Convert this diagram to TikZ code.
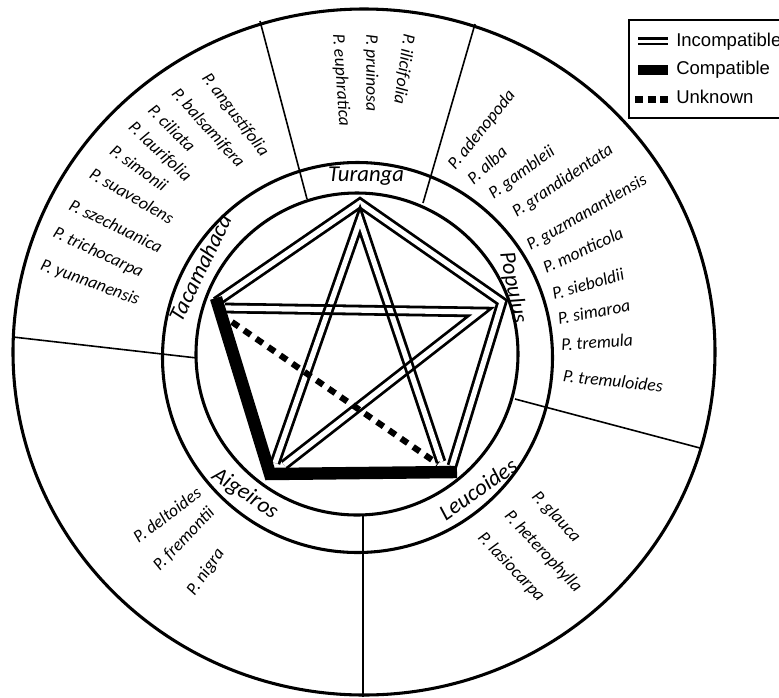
\documentclass[tikz,border=0pt]{standalone}
\usepackage{fontspec}
\setmainfont{Carlito}
\newfontfamily\legfont{Liberation Sans}
\usetikzlibrary{calc}
\begin{document}
\begin{tikzpicture}[x=0.75pt,y=-0.75pt,
  ring/.style={line width=2.3pt},
  divider/.style={line width=1.2pt},
  incompat/.style={draw=black, line width=2.1pt, double=white, double distance=3.9pt, line join=miter, line cap=butt},
  compat/.style={line width=9.3pt, line join=miter, line cap=butt},
  unknown/.style={line width=4.6pt, dash pattern=on 6pt off 5pt},
  spec/.style={font=\fontsize{13.2pt}{15pt}\selectfont\itshape, inner sep=0pt},
  genus/.style={font=\fontsize{17pt}{19pt}\selectfont\itshape, inner sep=0pt},
  legtext/.style={font=\legfont\fontsize{13.9pt}{16pt}\selectfont, inner sep=0pt, anchor=west},
  mult/.style={transparency group, blend mode=multiply},
]
\useasboundingbox (0,0) rectangle (779,697);
\clip (0,0) rectangle (779,697);

% circles
\draw[ring] (364,352) ellipse [x radius=351, y radius=343];
\draw[ring] (357.5,357.5) circle [radius=195];
\draw[ring] (357,354) circle [radius=161];

% dividers
\coordinate (d1o) at (260,21);  \coordinate (d1i) at (307,199);
\coordinate (d2o) at (475,24);  \coordinate (d2i) at (423,203);
\coordinate (d3o) at (700,448); \coordinate (d3i) at (515,399);
\coordinate (d4o) at (363,697); \coordinate (d4i) at (363,515);
\coordinate (d5o) at (13,337);  \coordinate (d5i) at (197,358);
\draw[divider] (d1o) -- (d1i);
\draw[divider] (d2o) -- (d2i);
\draw[divider] (d3o) -- (d3i);
\draw[divider] (d4o) -- (d4i);
\draw[divider] (d5o) -- (d5i);

% vertices
\coordinate (ta) at (216,302);
\coordinate (tu) at (360,203);
\coordinate (po) at (502,302);
\coordinate (leC) at (452,466);
\coordinate (leD) at (457,472);
\coordinate (aiD) at (270,474);
\coordinate (taD) at (216,298);
\coordinate (taA) at (225,308);
\coordinate (poA) at (480,312);
\coordinate (aiA) at (284,465);
\coordinate (aiB) at (275,463);
\coordinate (tuB) at (360,220);
\coordinate (leB) at (441,462);
\coordinate (taE) at (232,322);
\coordinate (leE) at (438,464);

% compatible
\draw[compat] (leD) -- (aiD) -- (taD);
% incompatible
\begin{scope}[mult]
  \draw[incompat] (ta) -- (tu) -- (po) -- (leC);
\end{scope}
\begin{scope}[mult]
  \draw[incompat] (taA) -- (poA) -- (aiA);
\end{scope}
\begin{scope}[mult]
  \draw[incompat] (aiB) -- (tuB) -- (leB);
\end{scope}
% unknown
\draw[unknown] (taE) -- (leE);

% genus labels
\node[genus] (gtur) at (366,176) {Turanga};
\node[genus, rotate=-79] (gpop) at (513,288) {Populus};
\node[genus, rotate=35] (gleu) at (478,489) {Leucoides};
\node[genus, rotate=-34] (gaig) at (245,494) {Aigeiros};
\node[genus, rotate=64] (gtac) at (200,268) {Tacamahaca};

% Turanga species
\node[spec, rotate=-86] (s1) at (341,80) {P. euphratica};
\node[spec, rotate=-90] (s2) at (371,73) {P. pruinosa};
\node[spec, rotate=-98] (s3) at (404,69) {P. ilicifolia};

% Tacamahaca species
\node[spec, rotate=-53] (t1) at (235,115) {P. angustifolia};
\node[spec, rotate=-48] (t2) at (208,128) {P. balsamifera};
\node[spec, rotate=-45] (t3) at (172,128) {P. ciliata};
\node[spec, rotate=-43] (t4) at (160,152) {P. laurifolia};
\node[spec, rotate=-36] (t5) at (139,168) {P. simonii};
\node[spec, rotate=-30] (t6) at (132,196) {P. suaveolens};
\node[spec, rotate=-26] (t7) at (116,226) {P. szechuanica};
\node[spec, rotate=-25] (t8) at (98,253) {P. trichocarpa};
\node[spec, rotate=-20] (t9) at (90,283) {P. yunnanensis};

% Populus species
\node[spec, rotate=51] (p1) at (482,130) {P. adenopoda};
\node[spec, rotate=42] (p2) at (487,165) {P. alba};
\node[spec, rotate=36] (p3) at (522,173) {P. gambleii};
\node[spec, rotate=34] (p4) at (563,181) {P. grandidentata};
\node[spec, rotate=30] (p5) at (587,213) {P. guzmanantlensis};
\node[spec, rotate=25] (p6) at (583,250) {P. monticola};
\node[spec, rotate=16] (p7) at (588,284) {P. sieboldii};
\node[spec, rotate=11] (p8) at (594,312) {P. simaroa};
\node[spec, rotate=4] (p9) at (597,342) {P. tremula};
\node[spec, rotate=-6] (p10) at (613,381) {P. tremuloides};

% Leucoides species
\node[spec, rotate=-47] (l1) at (556,517) {P. glauca};
\node[spec, rotate=-47] (l2) at (543,552) {P. heterophylla};
\node[spec, rotate=-46.5] (l3) at (511,567) {P. lasiocarpa};

% Aigeiros species
\node[spec, rotate=37] (a1) at (167,515) {P. deltoides};
\node[spec, rotate=46.5] (a2) at (184,539) {P. fremontii};
\node[spec, rotate=55] (a3) at (206,572) {P. nigra};

% legend
\draw[line width=2pt, fill=white] (629,20) rectangle (800,118);
\coordinate (k1a) at (638,41.3); \coordinate (k1b) at (668,41.3);
\coordinate (k2a) at (638,70);   \coordinate (k2b) at (668,70);
\coordinate (k3a) at (635,99.5); \coordinate (k3b) at (672,99.5);
\draw[line width=2pt, double=white, double distance=2pt] (k1a) -- (k1b);
\draw[line width=7.5pt] (k2a) -- (k2b);
\draw[line width=5.2pt, dash pattern=on 6pt off 3.5pt] (k3a) -- (k3b);
\node[legtext] (lg1) at (676,42) {Incompatible};
\node[legtext] (lg2) at (676,70) {Compatible};
\node[legtext] (lg3) at (676,97) {Unknown};
\end{tikzpicture}
\end{document}
